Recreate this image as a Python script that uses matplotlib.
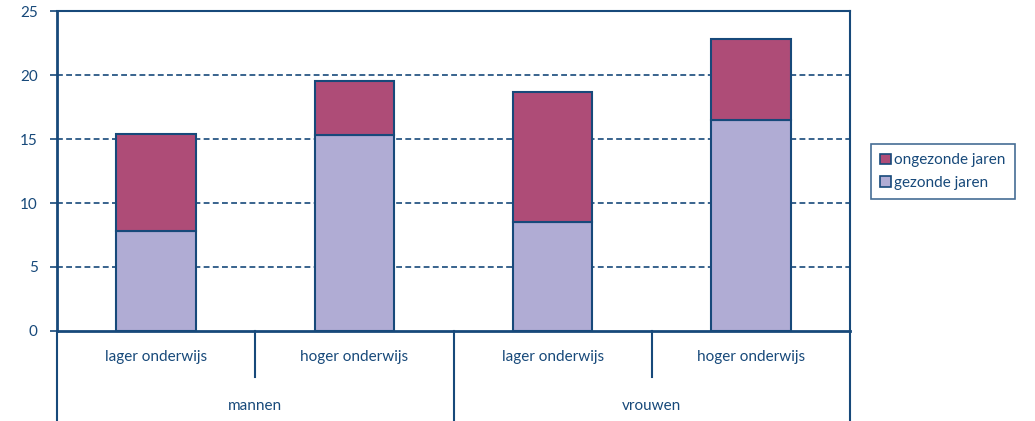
import numpy as np
import matplotlib.pyplot as plt
from matplotlib.patches import Patch

# data
groups = ["mannen", "vrouwen"]
levels = ["lager onderwijs", "hoger onderwijs", "lager onderwijs", "hoger onderwijs"]
gezond = [7.8, 15.3, 8.5, 16.5]
ongezond = [7.6, 4.2, 10.2, 6.3]

navy = "#17497a"
c_ongezond = "#ae4c77"
c_gezond = "#b0acd4"

plt.rcParams['font.family'] = ['Lato', 'DejaVu Sans']

fig = plt.figure(figsize=(10.35, 4.21), dpi=100)
ax = fig.add_axes([57 / 1035, 90 / 421, 793 / 1035, 320 / 421])

x = np.arange(len(levels))
ax.bar(x, gezond, width=0.4, color=c_gezond, edgecolor=navy, linewidth=1.5, zorder=3)
ax.bar(x, ongezond, bottom=gezond, width=0.4, color=c_ongezond, edgecolor=navy,
       linewidth=1.5, zorder=3)

ax.set_xlim(-0.5, 3.5)
ax.set_ylim(0, 25)
ax.set_yticks([0, 5, 10, 15, 20, 25])
ax.set_xticks([])
for y in [5, 10, 15, 20]:
    ax.axhline(y, color=navy, lw=1.2, ls=(0, (3.5, 2)), zorder=1)

for s in ax.spines.values():
    s.set_color(navy)
    s.set_linewidth(1.5)
ax.spines['left'].set_linewidth(2)
ax.spines['bottom'].set_linewidth(2)
ax.tick_params(axis='y', colors=navy, labelsize=11, length=5, width=1.2, pad=9)

# category axis below the plot
tr = ax.get_xaxis_transform()
for xb in [-0.5, 1.5, 3.5]:
    ax.plot([xb, xb], [0, -0.281], color=navy, lw=1.5, transform=tr, clip_on=False)
for xb in [0.5, 2.5]:
    ax.plot([xb, xb], [0, -0.144], color=navy, lw=1.5, transform=tr, clip_on=False)
for i, lab in enumerate(levels):
    ax.text(i, -0.081, lab, transform=tr, ha='center', va='center', color=navy, fontsize=11)
for i, g in enumerate(groups):
    ax.text(0.5 + 2 * i, -0.234, g, transform=tr, ha='center', va='center', color=navy,
            fontsize=11)

handles = [Patch(facecolor=c_ongezond, edgecolor=navy, linewidth=1.2),
           Patch(facecolor=c_gezond, edgecolor=navy, linewidth=1.2)]
leg = fig.legend(handles, ["ongezonde jaren", "gezonde jaren"], loc='center',
                 bbox_to_anchor=(943 / 1035, (421 - 171.5) / 421), fontsize=11,
                 frameon=True, fancybox=False, handlelength=0.7, handleheight=0.7,
                 handletextpad=0.2, borderpad=0.6, labelspacing=0.55, labelcolor=navy,
                 borderaxespad=0)
leg.get_frame().set_edgecolor(navy)
leg.get_frame().set_linewidth(1.2)

fig.savefig("out.png", dpi=100)
